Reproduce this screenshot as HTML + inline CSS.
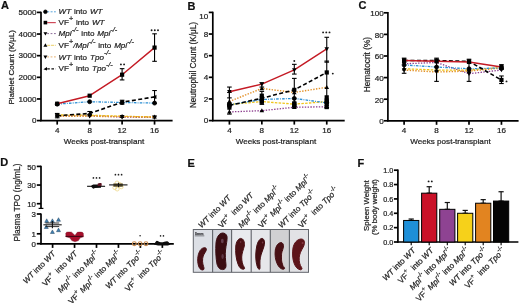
<!DOCTYPE html>
<html><head><meta charset="utf-8"><style>
html,body{margin:0;padding:0;background:#fff;}
body{width:520px;height:307px;overflow:hidden;font-family:"Liberation Sans", sans-serif;}
svg{display:block;will-change:transform;filter:blur(0.35px);}
text{stroke:#1e1e1e;stroke-width:0.22px;paint-order:stroke;}
</style></head><body>
<svg width="520" height="307" viewBox="0 0 520 307" font-family='"Liberation Sans", sans-serif'>
<rect width="520" height="307" fill="#fff"/>
<text x="0.90" y="9.20" font-size="11" text-anchor="start" font-weight="bold" fill="#111">A</text>
<text x="187.40" y="9.60" font-size="11" text-anchor="start" font-weight="bold" fill="#111">B</text>
<text x="358.40" y="9.40" font-size="11" text-anchor="start" font-weight="bold" fill="#111">C</text>
<text x="0.30" y="166.40" font-size="11" text-anchor="start" font-weight="bold" fill="#111">D</text>
<text x="187.50" y="167.00" font-size="11" text-anchor="start" font-weight="bold" fill="#111">E</text>
<text x="357.50" y="166.50" font-size="11" text-anchor="start" font-weight="bold" fill="#111">F</text>
<line x1="41.00" y1="11.70" x2="41.00" y2="121.30" stroke="#000" stroke-width="1.7" stroke-linecap="butt"/>
<line x1="40.30" y1="120.60" x2="172.60" y2="120.60" stroke="#000" stroke-width="1.7" stroke-linecap="butt"/>
<line x1="37.00" y1="120.60" x2="41.00" y2="120.60" stroke="#000" stroke-width="1.7" stroke-linecap="butt"/>
<text x="36.40" y="123.40" font-size="8.1" text-anchor="end" font-weight="normal" fill="#1e1e1e">0</text>
<line x1="37.00" y1="98.96" x2="41.00" y2="98.96" stroke="#000" stroke-width="1.7" stroke-linecap="butt"/>
<text x="36.40" y="101.76" font-size="8.1" text-anchor="end" font-weight="normal" fill="#1e1e1e">1000</text>
<line x1="37.00" y1="77.32" x2="41.00" y2="77.32" stroke="#000" stroke-width="1.7" stroke-linecap="butt"/>
<text x="36.40" y="80.12" font-size="8.1" text-anchor="end" font-weight="normal" fill="#1e1e1e">2000</text>
<line x1="37.00" y1="55.68" x2="41.00" y2="55.68" stroke="#000" stroke-width="1.7" stroke-linecap="butt"/>
<text x="36.40" y="58.48" font-size="8.1" text-anchor="end" font-weight="normal" fill="#1e1e1e">3000</text>
<line x1="37.00" y1="34.04" x2="41.00" y2="34.04" stroke="#000" stroke-width="1.7" stroke-linecap="butt"/>
<text x="36.40" y="36.84" font-size="8.1" text-anchor="end" font-weight="normal" fill="#1e1e1e">4000</text>
<line x1="37.00" y1="12.40" x2="41.00" y2="12.40" stroke="#000" stroke-width="1.7" stroke-linecap="butt"/>
<text x="36.40" y="15.20" font-size="8.1" text-anchor="end" font-weight="normal" fill="#1e1e1e">5000</text>
<line x1="57.20" y1="120.60" x2="57.20" y2="124.60" stroke="#000" stroke-width="1.7" stroke-linecap="butt"/>
<text x="57.20" y="133.30" font-size="8.1" text-anchor="middle" font-weight="normal" fill="#1e1e1e">4</text>
<line x1="89.65" y1="120.60" x2="89.65" y2="124.60" stroke="#000" stroke-width="1.7" stroke-linecap="butt"/>
<text x="89.65" y="133.30" font-size="8.1" text-anchor="middle" font-weight="normal" fill="#1e1e1e">8</text>
<line x1="122.10" y1="120.60" x2="122.10" y2="124.60" stroke="#000" stroke-width="1.7" stroke-linecap="butt"/>
<text x="122.10" y="133.30" font-size="8.1" text-anchor="middle" font-weight="normal" fill="#1e1e1e">12</text>
<line x1="154.55" y1="120.60" x2="154.55" y2="124.60" stroke="#000" stroke-width="1.7" stroke-linecap="butt"/>
<text x="154.55" y="133.30" font-size="8.1" text-anchor="middle" font-weight="normal" fill="#1e1e1e">16</text>
<text x="104.00" y="143.90" font-size="8.1" text-anchor="middle" font-weight="normal" fill="#1e1e1e">Weeks post-transplant</text>
<text x="14.50" y="67.30" font-size="8.0" text-anchor="middle" font-weight="normal" fill="#1e1e1e" transform="rotate(-90 14.50 67.30)">Platelet Count (K/&#956;L)</text>
<polyline points="57.20,115.84 89.65,115.62 122.10,117.14 154.55,117.35" fill="none" stroke="#8c3d8e" stroke-width="1.3" stroke-linecap="butt" stroke-linejoin="round" stroke-dasharray="1.4 1.4"/>
<polygon points="54.89,114.16 59.51,114.16 57.20,118.15" fill="#000"/>
<polygon points="87.34,113.94 91.96,113.94 89.65,117.93" fill="#000"/>
<polygon points="119.79,115.46 124.41,115.46 122.10,119.45" fill="#000"/>
<polygon points="152.24,115.67 156.86,115.67 154.55,119.66" fill="#000"/>
<polyline points="57.20,114.97 89.65,115.19 122.10,116.27 154.55,116.92" fill="none" stroke="#f0c419" stroke-width="1.3" stroke-linecap="butt" stroke-linejoin="round" stroke-dasharray="2.5 1.3"/>
<polygon points="54.89,116.65 59.51,116.65 57.20,112.66" fill="#000"/>
<polygon points="87.34,116.87 91.96,116.87 89.65,112.88" fill="#000"/>
<polygon points="119.79,117.95 124.41,117.95 122.10,113.96" fill="#000"/>
<polygon points="152.24,118.60 156.86,118.60 154.55,114.61" fill="#000"/>
<polyline points="57.20,116.27 89.65,116.27 122.10,116.60 154.55,117.14" fill="none" stroke="#e3922a" stroke-width="1.5" stroke-linecap="butt" stroke-linejoin="round" stroke-dasharray="1.4 1.4"/>
<polygon points="54.89,114.59 59.51,114.59 57.20,118.58" fill="#000"/>
<polygon points="87.34,114.59 91.96,114.59 89.65,118.58" fill="#000"/>
<polygon points="119.79,114.92 124.41,114.92 122.10,118.91" fill="#000"/>
<polygon points="152.24,115.46 156.86,115.46 154.55,119.45" fill="#000"/>
<line x1="57.20" y1="113.46" x2="57.20" y2="117.79" stroke="#000" stroke-width="1.1" stroke-linecap="butt"/>
<line x1="54.90" y1="113.46" x2="59.50" y2="113.46" stroke="#000" stroke-width="1.1" stroke-linecap="butt"/>
<line x1="54.90" y1="117.79" x2="59.50" y2="117.79" stroke="#000" stroke-width="1.1" stroke-linecap="butt"/>
<line x1="89.65" y1="111.51" x2="89.65" y2="114.97" stroke="#000" stroke-width="1.1" stroke-linecap="butt"/>
<line x1="87.35" y1="111.51" x2="91.95" y2="111.51" stroke="#000" stroke-width="1.1" stroke-linecap="butt"/>
<line x1="87.35" y1="114.97" x2="91.95" y2="114.97" stroke="#000" stroke-width="1.1" stroke-linecap="butt"/>
<line x1="122.10" y1="100.26" x2="122.10" y2="104.15" stroke="#000" stroke-width="1.1" stroke-linecap="butt"/>
<line x1="119.80" y1="100.26" x2="124.40" y2="100.26" stroke="#000" stroke-width="1.1" stroke-linecap="butt"/>
<line x1="119.80" y1="104.15" x2="124.40" y2="104.15" stroke="#000" stroke-width="1.1" stroke-linecap="butt"/>
<line x1="154.55" y1="90.52" x2="154.55" y2="103.50" stroke="#000" stroke-width="1.1" stroke-linecap="butt"/>
<line x1="152.25" y1="90.52" x2="156.85" y2="90.52" stroke="#000" stroke-width="1.1" stroke-linecap="butt"/>
<line x1="152.25" y1="103.50" x2="156.85" y2="103.50" stroke="#000" stroke-width="1.1" stroke-linecap="butt"/>
<polyline points="57.20,115.71 89.65,113.46 122.10,102.21 154.55,96.90" fill="none" stroke="#000" stroke-width="1.6" stroke-linecap="butt" stroke-linejoin="round" stroke-dasharray="4 2.4"/>
<polygon points="59.09,113.61 59.09,117.81 54.89,116.34" fill="#000"/>
<polygon points="91.54,111.36 91.54,115.56 87.34,114.09" fill="#000"/>
<polygon points="123.99,100.11 123.99,104.31 119.79,102.84" fill="#000"/>
<polygon points="156.44,94.80 156.44,99.00 152.24,97.53" fill="#000"/>
<polyline points="57.20,104.15 89.65,101.71 122.10,102.49 154.55,103.09" fill="none" stroke="#2b8fd4" stroke-width="1.3" stroke-linecap="butt" stroke-linejoin="round" stroke-dasharray="2.6 1.2 0.9 1.2"/>
<circle cx="57.20" cy="104.15" r="2.00" fill="#000" stroke="#000" stroke-width="0.8"/>
<circle cx="89.65" cy="101.71" r="2.00" fill="#000" stroke="#000" stroke-width="0.8"/>
<circle cx="122.10" cy="102.49" r="2.00" fill="#000" stroke="#000" stroke-width="0.8"/>
<circle cx="154.55" cy="103.09" r="2.00" fill="#000" stroke="#000" stroke-width="0.8"/>
<line x1="122.10" y1="68.66" x2="122.10" y2="79.92" stroke="#000" stroke-width="1.1" stroke-linecap="butt"/>
<line x1="119.80" y1="68.66" x2="124.40" y2="68.66" stroke="#000" stroke-width="1.1" stroke-linecap="butt"/>
<line x1="119.80" y1="79.92" x2="124.40" y2="79.92" stroke="#000" stroke-width="1.1" stroke-linecap="butt"/>
<line x1="154.55" y1="33.82" x2="154.55" y2="61.31" stroke="#000" stroke-width="1.1" stroke-linecap="butt"/>
<line x1="152.25" y1="33.82" x2="156.85" y2="33.82" stroke="#000" stroke-width="1.1" stroke-linecap="butt"/>
<line x1="152.25" y1="61.31" x2="156.85" y2="61.31" stroke="#000" stroke-width="1.1" stroke-linecap="butt"/>
<polyline points="57.20,103.72 89.65,95.71 122.10,74.70 154.55,47.59" fill="none" stroke="#c41a24" stroke-width="1.4" stroke-linecap="butt" stroke-linejoin="round"/>
<rect x="55.10" y="101.62" width="4.20" height="4.20" fill="#000"/>
<rect x="87.55" y="93.61" width="4.20" height="4.20" fill="#000"/>
<rect x="120.00" y="72.60" width="4.20" height="4.20" fill="#000"/>
<rect x="152.45" y="45.49" width="4.20" height="4.20" fill="#000"/>
<circle cx="120.90" cy="64.40" r="0.95" fill="#1a1a1a"/>
<circle cx="124.10" cy="64.40" r="0.95" fill="#1a1a1a"/>
<circle cx="151.60" cy="30.30" r="0.95" fill="#1a1a1a"/>
<circle cx="154.80" cy="30.30" r="0.95" fill="#1a1a1a"/>
<circle cx="158.00" cy="30.30" r="0.95" fill="#1a1a1a"/>
<line x1="47.20" y1="11.80" x2="55.80" y2="11.80" stroke="#5aa6dc" stroke-width="1.0" stroke-linecap="butt" stroke-dasharray="2 1.4"/>
<circle cx="45.40" cy="11.80" r="1.80" fill="#000" stroke="#000" stroke-width="0.8"/>
<text x="58.6" y="14.4" font-size="8.1" word-spacing="0.6" fill="#1e1e1e"><tspan font-style="italic">WT</tspan><tspan> into </tspan><tspan font-style="italic">WT</tspan></text>
<line x1="47.20" y1="22.60" x2="55.80" y2="22.60" stroke="#cf4a5a" stroke-width="1.2" stroke-linecap="butt"/>
<rect x="43.60" y="20.80" width="3.60" height="3.60" fill="#000"/>
<text x="58.6" y="25.2" font-size="8.1" word-spacing="0.6" fill="#1e1e1e"><tspan>VF</tspan><tspan font-size="7.29" dy="-4.05">+</tspan><tspan dy="4.05"> into </tspan><tspan font-style="italic">WT</tspan></text>
<line x1="47.20" y1="33.60" x2="55.80" y2="33.60" stroke="#8a6a98" stroke-width="1.0" stroke-linecap="butt" stroke-dasharray="1.8 1.6"/>
<polygon points="43.42,32.16 47.38,32.16 45.40,35.58" fill="#000"/>
<text x="58.6" y="36.2" font-size="8.1" word-spacing="0.6" fill="#1e1e1e"><tspan font-style="italic">Mpl</tspan><tspan font-style="italic" font-size="7.29" dy="-4.05">-/-</tspan><tspan dy="4.05"> into </tspan><tspan font-style="italic">Mpl</tspan><tspan font-style="italic" font-size="7.29" dy="-4.05">-/-</tspan></text>
<line x1="47.20" y1="45.30" x2="55.80" y2="45.30" stroke="#ecd068" stroke-width="1.0" stroke-linecap="butt" stroke-dasharray="3 0.8"/>
<polygon points="43.42,46.74 47.38,46.74 45.40,43.32" fill="#000"/>
<text x="58.6" y="47.9" font-size="8.1" word-spacing="0.6" fill="#1e1e1e"><tspan>VF</tspan><tspan font-size="7.29" dy="-4.05">+</tspan><tspan font-style="italic" dy="4.05">/Mpl</tspan><tspan font-style="italic" font-size="7.29" dy="-4.05">-/-</tspan><tspan dy="4.05"> into </tspan><tspan font-style="italic">Mpl</tspan><tspan font-style="italic" font-size="7.29" dy="-4.05">-/-</tspan></text>
<line x1="47.20" y1="56.90" x2="55.80" y2="56.90" stroke="#e6b070" stroke-width="1.0" stroke-linecap="butt" stroke-dasharray="1.8 1.6"/>
<polygon points="43.42,55.46 47.38,55.46 45.40,58.88" fill="#000"/>
<text x="58.6" y="59.5" font-size="8.1" word-spacing="0.6" fill="#1e1e1e"><tspan font-style="italic">WT</tspan><tspan> into </tspan><tspan font-style="italic">Tpo</tspan><tspan font-style="italic" font-size="7.29" dy="-4.05">-/-</tspan></text>
<line x1="47.20" y1="68.80" x2="55.80" y2="68.80" stroke="#111" stroke-width="1.3" stroke-linecap="butt" stroke-dasharray="2.6 1.6"/>
<polygon points="47.02,67.00 47.02,70.60 43.42,69.34" fill="#000"/>
<text x="58.6" y="71.4" font-size="8.1" word-spacing="0.6" fill="#1e1e1e"><tspan>VF</tspan><tspan font-size="7.29" dy="-4.05">+</tspan><tspan dy="4.05"> into </tspan><tspan font-style="italic">Tpo</tspan><tspan font-style="italic" font-size="7.29" dy="-4.05">-/-</tspan></text>
<line x1="212.80" y1="11.70" x2="212.80" y2="121.30" stroke="#000" stroke-width="1.7" stroke-linecap="butt"/>
<line x1="212.10" y1="120.60" x2="344.70" y2="120.60" stroke="#000" stroke-width="1.7" stroke-linecap="butt"/>
<line x1="208.80" y1="120.60" x2="212.80" y2="120.60" stroke="#000" stroke-width="1.7" stroke-linecap="butt"/>
<text x="208.20" y="123.40" font-size="8.1" text-anchor="end" font-weight="normal" fill="#1e1e1e">0</text>
<line x1="208.80" y1="98.96" x2="212.80" y2="98.96" stroke="#000" stroke-width="1.7" stroke-linecap="butt"/>
<text x="208.20" y="101.76" font-size="8.1" text-anchor="end" font-weight="normal" fill="#1e1e1e">2</text>
<line x1="208.80" y1="77.32" x2="212.80" y2="77.32" stroke="#000" stroke-width="1.7" stroke-linecap="butt"/>
<text x="208.20" y="80.12" font-size="8.1" text-anchor="end" font-weight="normal" fill="#1e1e1e">4</text>
<line x1="208.80" y1="55.68" x2="212.80" y2="55.68" stroke="#000" stroke-width="1.7" stroke-linecap="butt"/>
<text x="208.20" y="58.48" font-size="8.1" text-anchor="end" font-weight="normal" fill="#1e1e1e">6</text>
<line x1="208.80" y1="34.04" x2="212.80" y2="34.04" stroke="#000" stroke-width="1.7" stroke-linecap="butt"/>
<text x="208.20" y="36.84" font-size="8.1" text-anchor="end" font-weight="normal" fill="#1e1e1e">8</text>
<line x1="208.80" y1="12.40" x2="212.80" y2="12.40" stroke="#000" stroke-width="1.7" stroke-linecap="butt"/>
<text x="208.20" y="18.80" font-size="8.1" text-anchor="end" font-weight="normal" fill="#1e1e1e">10</text>
<line x1="229.40" y1="120.60" x2="229.40" y2="124.60" stroke="#000" stroke-width="1.7" stroke-linecap="butt"/>
<text x="229.40" y="133.30" font-size="8.1" text-anchor="middle" font-weight="normal" fill="#1e1e1e">4</text>
<line x1="261.85" y1="120.60" x2="261.85" y2="124.60" stroke="#000" stroke-width="1.7" stroke-linecap="butt"/>
<text x="261.85" y="133.30" font-size="8.1" text-anchor="middle" font-weight="normal" fill="#1e1e1e">8</text>
<line x1="294.30" y1="120.60" x2="294.30" y2="124.60" stroke="#000" stroke-width="1.7" stroke-linecap="butt"/>
<text x="294.30" y="133.30" font-size="8.1" text-anchor="middle" font-weight="normal" fill="#1e1e1e">12</text>
<line x1="326.75" y1="120.60" x2="326.75" y2="124.60" stroke="#000" stroke-width="1.7" stroke-linecap="butt"/>
<text x="326.75" y="133.30" font-size="8.1" text-anchor="middle" font-weight="normal" fill="#1e1e1e">16</text>
<text x="275.95" y="143.90" font-size="8.1" text-anchor="middle" font-weight="normal" fill="#1e1e1e">Weeks post-transplant</text>
<text x="196.40" y="65.00" font-size="8.2" text-anchor="middle" font-weight="normal" fill="#1e1e1e" transform="rotate(-90 196.40 65.00)">Neutrophil Count (K/&#956;L)</text>
<polyline points="229.40,111.94 261.85,110.65 294.30,107.29 326.75,106.75" fill="none" stroke="#8c3d8e" stroke-width="1.3" stroke-linecap="butt" stroke-linejoin="round" stroke-dasharray="1.4 1.4"/>
<polygon points="227.09,113.62 231.71,113.62 229.40,109.63" fill="#000"/>
<polygon points="259.54,112.33 264.16,112.33 261.85,108.34" fill="#000"/>
<polygon points="291.99,108.97 296.61,108.97 294.30,104.98" fill="#000"/>
<polygon points="324.44,108.43 329.06,108.43 326.75,104.44" fill="#000"/>
<polyline points="229.40,104.37 261.85,101.56 294.30,104.15 326.75,101.56" fill="none" stroke="#f0c419" stroke-width="1.3" stroke-linecap="butt" stroke-linejoin="round" stroke-dasharray="2.5 1.3"/>
<rect x="227.30" y="102.27" width="4.20" height="4.20" fill="#000"/>
<rect x="259.75" y="99.46" width="4.20" height="4.20" fill="#000"/>
<rect x="292.20" y="102.05" width="4.20" height="4.20" fill="#000"/>
<rect x="324.65" y="99.46" width="4.20" height="4.20" fill="#000"/>
<polyline points="229.40,101.45 261.85,88.46 294.30,92.47 326.75,87.27" fill="none" stroke="#e3922a" stroke-width="1.4" stroke-linecap="butt" stroke-linejoin="round" stroke-dasharray="1.4 1.4"/>
<polygon points="227.09,103.13 231.71,103.13 229.40,99.14" fill="#000"/>
<polygon points="259.54,90.14 264.16,90.14 261.85,86.15" fill="#000"/>
<polygon points="291.99,94.15 296.61,94.15 294.30,90.16" fill="#000"/>
<polygon points="324.44,88.95 329.06,88.95 326.75,84.96" fill="#000"/>
<polyline points="229.40,104.80 261.85,99.50 294.30,98.42 326.75,102.86" fill="none" stroke="#2b8fd4" stroke-width="1.3" stroke-linecap="butt" stroke-linejoin="round" stroke-dasharray="2.6 1.2 0.9 1.2"/>
<circle cx="229.40" cy="104.80" r="2.00" fill="#000" stroke="#000" stroke-width="0.8"/>
<circle cx="261.85" cy="99.50" r="2.00" fill="#000" stroke="#000" stroke-width="0.8"/>
<circle cx="294.30" cy="98.42" r="2.00" fill="#000" stroke="#000" stroke-width="0.8"/>
<circle cx="326.75" cy="102.86" r="2.00" fill="#000" stroke="#000" stroke-width="0.8"/>
<line x1="229.40" y1="92.47" x2="229.40" y2="114.11" stroke="#000" stroke-width="1.1" stroke-linecap="butt"/>
<line x1="227.10" y1="92.47" x2="231.70" y2="92.47" stroke="#000" stroke-width="1.1" stroke-linecap="butt"/>
<line x1="227.10" y1="114.11" x2="231.70" y2="114.11" stroke="#000" stroke-width="1.1" stroke-linecap="butt"/>
<line x1="261.85" y1="91.39" x2="261.85" y2="104.37" stroke="#000" stroke-width="1.1" stroke-linecap="butt"/>
<line x1="259.55" y1="91.39" x2="264.15" y2="91.39" stroke="#000" stroke-width="1.1" stroke-linecap="butt"/>
<line x1="259.55" y1="104.37" x2="264.15" y2="104.37" stroke="#000" stroke-width="1.1" stroke-linecap="butt"/>
<line x1="294.30" y1="78.40" x2="294.30" y2="106.53" stroke="#000" stroke-width="1.1" stroke-linecap="butt"/>
<line x1="292.00" y1="78.40" x2="296.60" y2="78.40" stroke="#000" stroke-width="1.1" stroke-linecap="butt"/>
<line x1="292.00" y1="106.53" x2="296.60" y2="106.53" stroke="#000" stroke-width="1.1" stroke-linecap="butt"/>
<line x1="326.75" y1="61.09" x2="326.75" y2="107.62" stroke="#000" stroke-width="1.1" stroke-linecap="butt"/>
<line x1="324.45" y1="61.09" x2="329.05" y2="61.09" stroke="#000" stroke-width="1.1" stroke-linecap="butt"/>
<line x1="324.45" y1="107.62" x2="329.05" y2="107.62" stroke="#000" stroke-width="1.1" stroke-linecap="butt"/>
<polyline points="229.40,105.45 261.85,98.20 294.30,89.87 326.75,72.45" fill="none" stroke="#000" stroke-width="1.6" stroke-linecap="butt" stroke-linejoin="round" stroke-dasharray="4 2.4"/>
<rect x="227.30" y="103.35" width="4.20" height="4.20" fill="#000"/>
<rect x="259.75" y="96.10" width="4.20" height="4.20" fill="#000"/>
<rect x="292.20" y="87.77" width="4.20" height="4.20" fill="#000"/>
<rect x="324.65" y="70.35" width="4.20" height="4.20" fill="#000"/>
<line x1="229.40" y1="87.06" x2="229.40" y2="97.88" stroke="#000" stroke-width="1.1" stroke-linecap="butt"/>
<line x1="227.10" y1="87.06" x2="231.70" y2="87.06" stroke="#000" stroke-width="1.1" stroke-linecap="butt"/>
<line x1="227.10" y1="97.88" x2="231.70" y2="97.88" stroke="#000" stroke-width="1.1" stroke-linecap="butt"/>
<line x1="261.85" y1="82.73" x2="261.85" y2="87.06" stroke="#000" stroke-width="1.1" stroke-linecap="butt"/>
<line x1="259.55" y1="82.73" x2="264.15" y2="82.73" stroke="#000" stroke-width="1.1" stroke-linecap="butt"/>
<line x1="259.55" y1="87.06" x2="264.15" y2="87.06" stroke="#000" stroke-width="1.1" stroke-linecap="butt"/>
<line x1="294.30" y1="64.34" x2="294.30" y2="74.07" stroke="#000" stroke-width="1.1" stroke-linecap="butt"/>
<line x1="292.00" y1="64.34" x2="296.60" y2="64.34" stroke="#000" stroke-width="1.1" stroke-linecap="butt"/>
<line x1="292.00" y1="74.07" x2="296.60" y2="74.07" stroke="#000" stroke-width="1.1" stroke-linecap="butt"/>
<line x1="326.75" y1="37.29" x2="326.75" y2="62.17" stroke="#000" stroke-width="1.1" stroke-linecap="butt"/>
<line x1="324.45" y1="37.29" x2="329.05" y2="37.29" stroke="#000" stroke-width="1.1" stroke-linecap="butt"/>
<line x1="324.45" y1="62.17" x2="329.05" y2="62.17" stroke="#000" stroke-width="1.1" stroke-linecap="butt"/>
<polyline points="229.40,91.71 261.85,84.14 294.30,69.85 326.75,48.86" fill="none" stroke="#c41a24" stroke-width="1.4" stroke-linecap="butt" stroke-linejoin="round"/>
<polygon points="227.09,90.03 231.71,90.03 229.40,94.02" fill="#000"/>
<polygon points="259.54,82.46 264.16,82.46 261.85,86.45" fill="#000"/>
<polygon points="291.99,68.17 296.61,68.17 294.30,72.16" fill="#000"/>
<polygon points="324.44,47.18 329.06,47.18 326.75,51.17" fill="#000"/>
<rect x="292.20" y="104.43" width="4.20" height="4.20" fill="#000"/>
<rect x="292.20" y="101.19" width="4.20" height="4.20" fill="#000"/>
<rect x="324.60" y="104.97" width="4.20" height="4.20" fill="#000"/>
<rect x="324.60" y="101.73" width="4.20" height="4.20" fill="#000"/>
<rect x="324.60" y="98.48" width="4.20" height="4.20" fill="#000"/>
<rect x="324.60" y="95.24" width="4.20" height="4.20" fill="#000"/>
<rect x="259.70" y="99.56" width="4.20" height="4.20" fill="#000"/>
<rect x="259.70" y="93.61" width="4.20" height="4.20" fill="#000"/>
<rect x="227.30" y="105.52" width="4.20" height="4.20" fill="#000"/>
<circle cx="294.30" cy="61.00" r="0.95" fill="#1a1a1a"/>
<circle cx="323.10" cy="32.40" r="0.95" fill="#1a1a1a"/>
<circle cx="326.30" cy="32.40" r="0.95" fill="#1a1a1a"/>
<circle cx="329.50" cy="32.40" r="0.95" fill="#1a1a1a"/>
<circle cx="332.80" cy="73.60" r="0.95" fill="#1a1a1a"/>
<line x1="387.90" y1="12.10" x2="387.90" y2="121.50" stroke="#000" stroke-width="1.7" stroke-linecap="butt"/>
<line x1="387.20" y1="120.80" x2="518.60" y2="120.80" stroke="#000" stroke-width="1.7" stroke-linecap="butt"/>
<line x1="383.90" y1="120.80" x2="387.90" y2="120.80" stroke="#000" stroke-width="1.7" stroke-linecap="butt"/>
<text x="383.70" y="124.10" font-size="8.1" text-anchor="end" font-weight="normal" fill="#1e1e1e">0</text>
<line x1="383.90" y1="99.20" x2="387.90" y2="99.20" stroke="#000" stroke-width="1.7" stroke-linecap="butt"/>
<text x="383.70" y="102.50" font-size="8.1" text-anchor="end" font-weight="normal" fill="#1e1e1e">20</text>
<line x1="383.90" y1="77.60" x2="387.90" y2="77.60" stroke="#000" stroke-width="1.7" stroke-linecap="butt"/>
<text x="383.70" y="80.90" font-size="8.1" text-anchor="end" font-weight="normal" fill="#1e1e1e">40</text>
<line x1="383.90" y1="56.00" x2="387.90" y2="56.00" stroke="#000" stroke-width="1.7" stroke-linecap="butt"/>
<text x="383.70" y="59.30" font-size="8.1" text-anchor="end" font-weight="normal" fill="#1e1e1e">60</text>
<line x1="383.90" y1="34.40" x2="387.90" y2="34.40" stroke="#000" stroke-width="1.7" stroke-linecap="butt"/>
<text x="383.70" y="37.70" font-size="8.1" text-anchor="end" font-weight="normal" fill="#1e1e1e">80</text>
<line x1="383.90" y1="12.80" x2="387.90" y2="12.80" stroke="#000" stroke-width="1.7" stroke-linecap="butt"/>
<text x="383.70" y="16.10" font-size="8.1" text-anchor="end" font-weight="normal" fill="#1e1e1e">100</text>
<line x1="404.10" y1="120.80" x2="404.10" y2="124.80" stroke="#000" stroke-width="1.7" stroke-linecap="butt"/>
<text x="404.10" y="133.30" font-size="8.1" text-anchor="middle" font-weight="normal" fill="#1e1e1e">4</text>
<line x1="436.55" y1="120.80" x2="436.55" y2="124.80" stroke="#000" stroke-width="1.7" stroke-linecap="butt"/>
<text x="436.55" y="133.30" font-size="8.1" text-anchor="middle" font-weight="normal" fill="#1e1e1e">8</text>
<line x1="469.00" y1="120.80" x2="469.00" y2="124.80" stroke="#000" stroke-width="1.7" stroke-linecap="butt"/>
<text x="469.00" y="133.30" font-size="8.1" text-anchor="middle" font-weight="normal" fill="#1e1e1e">12</text>
<line x1="501.45" y1="120.80" x2="501.45" y2="124.80" stroke="#000" stroke-width="1.7" stroke-linecap="butt"/>
<text x="501.45" y="133.30" font-size="8.1" text-anchor="middle" font-weight="normal" fill="#1e1e1e">16</text>
<text x="450.45" y="143.90" font-size="8.1" text-anchor="middle" font-weight="normal" fill="#1e1e1e">Weeks post-transplant</text>
<text x="370.00" y="64.60" font-size="8.3" text-anchor="middle" font-weight="normal" fill="#1e1e1e" transform="rotate(-90 370.00 64.60)">Hematocrit (%)</text>
<polyline points="404.10,63.78 436.55,62.48 469.00,73.71 501.45,70.04" fill="none" stroke="#8c3d8e" stroke-width="1.3" stroke-linecap="butt" stroke-linejoin="round" stroke-dasharray="1.4 1.4"/>
<polygon points="401.79,62.10 406.41,62.10 404.10,66.09" fill="#000"/>
<polygon points="434.24,60.80 438.86,60.80 436.55,64.79" fill="#000"/>
<polygon points="466.69,72.03 471.31,72.03 469.00,76.02" fill="#000"/>
<polygon points="499.14,68.36 503.76,68.36 501.45,72.35" fill="#000"/>
<polyline points="404.10,68.74 436.55,70.04 469.00,70.04 501.45,67.45" fill="none" stroke="#f0c419" stroke-width="1.3" stroke-linecap="butt" stroke-linejoin="round" stroke-dasharray="2.5 1.3"/>
<polygon points="401.79,70.42 406.41,70.42 404.10,66.43" fill="#000"/>
<polygon points="434.24,71.72 438.86,71.72 436.55,67.73" fill="#000"/>
<polygon points="466.69,71.72 471.31,71.72 469.00,67.73" fill="#000"/>
<polygon points="499.14,69.13 503.76,69.13 501.45,65.14" fill="#000"/>
<polyline points="404.10,70.04 436.55,71.98 469.00,71.12 501.45,67.99" fill="none" stroke="#e3922a" stroke-width="1.4" stroke-linecap="butt" stroke-linejoin="round" stroke-dasharray="1.4 1.4"/>
<polygon points="401.79,68.36 406.41,68.36 404.10,72.35" fill="#000"/>
<polygon points="434.24,70.30 438.86,70.30 436.55,74.29" fill="#000"/>
<polygon points="466.69,69.44 471.31,69.44 469.00,73.43" fill="#000"/>
<polygon points="499.14,66.31 503.76,66.31 501.45,70.30" fill="#000"/>
<polyline points="404.10,64.96 436.55,67.02 469.00,68.74 501.45,67.99" fill="none" stroke="#2b8fd4" stroke-width="1.3" stroke-linecap="butt" stroke-linejoin="round" stroke-dasharray="2.6 1.2 0.9 1.2"/>
<circle cx="404.10" cy="64.96" r="2.00" fill="#000" stroke="#000" stroke-width="0.8"/>
<circle cx="436.55" cy="67.02" r="2.00" fill="#000" stroke="#000" stroke-width="0.8"/>
<circle cx="469.00" cy="68.74" r="2.00" fill="#000" stroke="#000" stroke-width="0.8"/>
<circle cx="501.45" cy="67.99" r="2.00" fill="#000" stroke="#000" stroke-width="0.8"/>
<line x1="404.10" y1="58.16" x2="404.10" y2="73.28" stroke="#000" stroke-width="1.1" stroke-linecap="butt"/>
<line x1="401.80" y1="58.16" x2="406.40" y2="58.16" stroke="#000" stroke-width="1.1" stroke-linecap="butt"/>
<line x1="401.80" y1="73.28" x2="406.40" y2="73.28" stroke="#000" stroke-width="1.1" stroke-linecap="butt"/>
<line x1="436.55" y1="58.16" x2="436.55" y2="81.38" stroke="#000" stroke-width="1.1" stroke-linecap="butt"/>
<line x1="434.25" y1="58.16" x2="438.85" y2="58.16" stroke="#000" stroke-width="1.1" stroke-linecap="butt"/>
<line x1="434.25" y1="81.38" x2="438.85" y2="81.38" stroke="#000" stroke-width="1.1" stroke-linecap="butt"/>
<line x1="469.00" y1="59.24" x2="469.00" y2="81.38" stroke="#000" stroke-width="1.1" stroke-linecap="butt"/>
<line x1="466.70" y1="59.24" x2="471.30" y2="59.24" stroke="#000" stroke-width="1.1" stroke-linecap="butt"/>
<line x1="466.70" y1="81.38" x2="471.30" y2="81.38" stroke="#000" stroke-width="1.1" stroke-linecap="butt"/>
<line x1="501.45" y1="75.98" x2="501.45" y2="83.54" stroke="#000" stroke-width="1.1" stroke-linecap="butt"/>
<line x1="499.15" y1="75.98" x2="503.75" y2="75.98" stroke="#000" stroke-width="1.1" stroke-linecap="butt"/>
<line x1="499.15" y1="83.54" x2="503.75" y2="83.54" stroke="#000" stroke-width="1.1" stroke-linecap="butt"/>
<polyline points="404.10,60.54 436.55,60.54 469.00,61.40 501.45,79.98" fill="none" stroke="#000" stroke-width="1.6" stroke-linecap="butt" stroke-linejoin="round" stroke-dasharray="4 2.4"/>
<rect x="402.00" y="58.44" width="4.20" height="4.20" fill="#000"/>
<rect x="434.45" y="58.44" width="4.20" height="4.20" fill="#000"/>
<rect x="466.90" y="59.30" width="4.20" height="4.20" fill="#000"/>
<rect x="499.35" y="77.88" width="4.20" height="4.20" fill="#000"/>
<line x1="501.45" y1="64.64" x2="501.45" y2="69.50" stroke="#000" stroke-width="1.1" stroke-linecap="butt"/>
<line x1="499.15" y1="64.64" x2="503.75" y2="64.64" stroke="#000" stroke-width="1.1" stroke-linecap="butt"/>
<line x1="499.15" y1="69.50" x2="503.75" y2="69.50" stroke="#000" stroke-width="1.1" stroke-linecap="butt"/>
<polyline points="404.10,60.54 436.55,61.18 469.00,61.94 501.45,67.02" fill="none" stroke="#c41a24" stroke-width="1.4" stroke-linecap="butt" stroke-linejoin="round"/>
<rect x="402.00" y="58.44" width="4.20" height="4.20" fill="#000"/>
<rect x="434.45" y="59.08" width="4.20" height="4.20" fill="#000"/>
<rect x="466.90" y="59.84" width="4.20" height="4.20" fill="#000"/>
<rect x="499.35" y="64.92" width="4.20" height="4.20" fill="#000"/>
<circle cx="506.50" cy="81.40" r="0.95" fill="#1a1a1a"/>
<line x1="41.00" y1="165.70" x2="41.00" y2="208.40" stroke="#000" stroke-width="1.7" stroke-linecap="butt"/>
<line x1="38.60" y1="208.40" x2="43.40" y2="208.40" stroke="#000" stroke-width="1.2" stroke-linecap="butt"/>
<line x1="41.00" y1="213.40" x2="41.00" y2="244.40" stroke="#000" stroke-width="1.7" stroke-linecap="butt"/>
<line x1="40.30" y1="243.80" x2="173.80" y2="243.80" stroke="#000" stroke-width="1.7" stroke-linecap="butt"/>
<line x1="36.80" y1="166.40" x2="41.00" y2="166.40" stroke="#000" stroke-width="1.7" stroke-linecap="butt"/>
<text x="36.00" y="169.50" font-size="7.9" text-anchor="end" font-weight="normal" fill="#1e1e1e">50</text>
<line x1="36.80" y1="185.05" x2="41.00" y2="185.05" stroke="#000" stroke-width="1.7" stroke-linecap="butt"/>
<text x="36.00" y="188.15" font-size="7.9" text-anchor="end" font-weight="normal" fill="#1e1e1e">30</text>
<line x1="36.80" y1="203.70" x2="41.00" y2="203.70" stroke="#000" stroke-width="1.7" stroke-linecap="butt"/>
<text x="36.00" y="206.80" font-size="7.9" text-anchor="end" font-weight="normal" fill="#1e1e1e">10</text>
<line x1="36.80" y1="214.00" x2="41.00" y2="214.00" stroke="#000" stroke-width="1.7" stroke-linecap="butt"/>
<text x="36.00" y="217.00" font-size="7.9" text-anchor="end" font-weight="normal" fill="#1e1e1e">3</text>
<line x1="36.80" y1="233.80" x2="41.00" y2="233.80" stroke="#000" stroke-width="1.7" stroke-linecap="butt"/>
<text x="36.00" y="236.80" font-size="7.9" text-anchor="end" font-weight="normal" fill="#1e1e1e">1</text>
<line x1="36.80" y1="243.70" x2="41.00" y2="243.70" stroke="#000" stroke-width="1.7" stroke-linecap="butt"/>
<text x="36.00" y="246.70" font-size="7.9" text-anchor="end" font-weight="normal" fill="#1e1e1e">0</text>
<text x="20.30" y="202.50" font-size="8.3" text-anchor="middle" font-weight="normal" fill="#1e1e1e" transform="rotate(-90 20.30 202.50)">Plasma TPO (ng/mL)</text>
<line x1="52.60" y1="243.80" x2="52.60" y2="247.90" stroke="#000" stroke-width="1.7" stroke-linecap="butt"/>
<text x="56.00" y="254.30" font-size="8.0" text-anchor="end" fill="#1e1e1e" transform="rotate(-45 56.00 254.30)"><tspan font-style="italic">WT</tspan><tspan> into </tspan><tspan font-style="italic">WT</tspan></text>
<line x1="74.55" y1="243.80" x2="74.55" y2="247.90" stroke="#000" stroke-width="1.7" stroke-linecap="butt"/>
<text x="77.95" y="254.30" font-size="8.0" text-anchor="end" fill="#1e1e1e" transform="rotate(-45 77.95 254.30)"><tspan>VF</tspan><tspan font-size="6.24" dy="-4.00">+</tspan><tspan dy="4.00">&#160; into </tspan><tspan font-style="italic">WT</tspan></text>
<line x1="96.50" y1="243.80" x2="96.50" y2="247.90" stroke="#000" stroke-width="1.7" stroke-linecap="butt"/>
<text x="99.90" y="254.30" font-size="8.0" text-anchor="end" fill="#1e1e1e" transform="rotate(-45 99.90 254.30)"><tspan font-style="italic">Mpl</tspan><tspan font-size="6.24" dy="-4.00">-/-</tspan><tspan dy="4.00"> into </tspan><tspan font-style="italic">Mpl</tspan><tspan font-size="6.24" dy="-4.00">-/-</tspan></text>
<line x1="118.45" y1="243.80" x2="118.45" y2="247.90" stroke="#000" stroke-width="1.7" stroke-linecap="butt"/>
<text x="121.85" y="254.30" font-size="8.0" text-anchor="end" fill="#1e1e1e" transform="rotate(-45 121.85 254.30)"><tspan>VF</tspan><tspan font-size="6.24" dy="-4.00">+</tspan><tspan dy="4.00">&#160;</tspan><tspan font-style="italic">Mpl</tspan><tspan font-size="6.24" dy="-4.00">-/-</tspan><tspan dy="4.00"> into </tspan><tspan font-style="italic">Mpl</tspan><tspan font-size="6.24" dy="-4.00">-/-</tspan></text>
<line x1="140.40" y1="243.80" x2="140.40" y2="247.90" stroke="#000" stroke-width="1.7" stroke-linecap="butt"/>
<text x="143.80" y="254.30" font-size="8.0" text-anchor="end" fill="#1e1e1e" transform="rotate(-45 143.80 254.30)"><tspan font-style="italic">WT</tspan><tspan> into </tspan><tspan font-style="italic">Tpo</tspan><tspan font-size="6.24" dy="-4.00">-/-</tspan></text>
<line x1="162.35" y1="243.80" x2="162.35" y2="247.90" stroke="#000" stroke-width="1.7" stroke-linecap="butt"/>
<text x="165.75" y="254.30" font-size="8.0" text-anchor="end" fill="#1e1e1e" transform="rotate(-45 165.75 254.30)"><tspan>VF</tspan><tspan font-size="6.24" dy="-4.00">+</tspan><tspan dy="4.00">&#160; into </tspan><tspan font-style="italic">Tpo</tspan><tspan font-size="6.24" dy="-4.00">-/-</tspan></text>
<polygon points="44.70,222.40 48.70,222.40 46.70,218.80" fill="#3f80b2" stroke="#1d3d58" stroke-width="0.45"/>
<polygon points="50.40,222.40 54.40,222.40 52.40,218.80" fill="#3f80b2" stroke="#1d3d58" stroke-width="0.45"/>
<polygon points="56.50,221.30 60.50,221.30 58.50,217.70" fill="#3f80b2" stroke="#1d3d58" stroke-width="0.45"/>
<polygon points="44.30,228.50 48.30,228.50 46.30,224.90" fill="#3f80b2" stroke="#1d3d58" stroke-width="0.45"/>
<polygon points="50.40,233.50 54.40,233.50 52.40,229.90" fill="#3f80b2" stroke="#1d3d58" stroke-width="0.45"/>
<polygon points="56.50,231.70 60.50,231.70 58.50,228.10" fill="#3f80b2" stroke="#1d3d58" stroke-width="0.45"/>
<line x1="43.40" y1="224.80" x2="61.70" y2="224.80" stroke="#1a1a1a" stroke-width="1.1" stroke-linecap="butt"/>
<line x1="45.50" y1="223.00" x2="59.20" y2="223.00" stroke="#1a1a1a" stroke-width="0.9" stroke-linecap="butt"/>
<line x1="45.50" y1="226.60" x2="59.20" y2="226.60" stroke="#1a1a1a" stroke-width="0.9" stroke-linecap="butt"/>
<line x1="52.40" y1="221.00" x2="52.40" y2="228.20" stroke="#111" stroke-width="1.1" stroke-linecap="butt"/>
<path d="M65.8,233 C66.2,232 68.5,231.8 71.6,232.2 L75,235.4 L77.2,232.3 C80,231.8 82.6,232 83.2,233 L83.6,236.8 L80.2,237.8 L78.4,240.6 L75,241.8 L71.8,240.6 L69.8,237.8 L65.9,236.8 Z" fill="#a80f2c" stroke="#6a0818" stroke-width="0.4"/>
<line x1="65.60" y1="236.40" x2="82.80" y2="236.40" stroke="#3a0510" stroke-width="1.0" stroke-linecap="butt"/>
<line x1="87.10" y1="186.30" x2="105.10" y2="186.30" stroke="#111" stroke-width="1.1" stroke-linecap="butt"/>
<path d="M91,186.6 C91.5,185 93,184.5 95,184.6 L98,184.4 L101,184.6 L101,187.8 L95,188 L93.2,188.8 L92.2,187.8 Z" fill="#0d0d0d"/>
<path d="M97.6,186 L97.8,183.6 C98.8,182.9 100.6,182.8 101.7,183.4 L101.6,186 Z" fill="#5a1422"/>
<circle cx="93.40" cy="177.90" r="0.85" fill="#222"/>
<circle cx="96.50" cy="177.90" r="0.85" fill="#222"/>
<circle cx="99.60" cy="177.90" r="0.85" fill="#222"/>
<circle cx="114.80" cy="187.60" r="2.0" fill="none" stroke="#efd98a" stroke-width="0.8"/>
<circle cx="117.00" cy="183.00" r="2.0" fill="none" stroke="#efd98a" stroke-width="0.8"/>
<circle cx="119.80" cy="184.60" r="2.0" fill="none" stroke="#efd98a" stroke-width="0.8"/>
<circle cx="121.20" cy="186.80" r="2.0" fill="none" stroke="#efd98a" stroke-width="0.8"/>
<circle cx="117.20" cy="189.00" r="2.0" fill="none" stroke="#efd98a" stroke-width="0.8"/>
<rect x="113.4" y="183.4" width="9.4" height="3.4" fill="#6a5e36"/>
<line x1="109.10" y1="184.90" x2="127.50" y2="184.90" stroke="#111" stroke-width="1.1" stroke-linecap="butt"/>
<line x1="118.50" y1="182.80" x2="118.50" y2="187.20" stroke="#111" stroke-width="1.0" stroke-linecap="butt"/>
<circle cx="115.40" cy="174.70" r="0.85" fill="#222"/>
<circle cx="118.50" cy="174.70" r="0.85" fill="#222"/>
<circle cx="121.60" cy="174.70" r="0.85" fill="#222"/>
<circle cx="134.30" cy="243.7" r="1.9" fill="none" stroke="#c98a4e" stroke-width="1.1"/>
<circle cx="140.10" cy="243.7" r="1.9" fill="none" stroke="#c98a4e" stroke-width="1.1"/>
<circle cx="146.00" cy="243.7" r="1.9" fill="none" stroke="#c98a4e" stroke-width="1.1"/>
<circle cx="140.10" cy="235.80" r="0.8" fill="#222"/>
<path d="M153.8,244.6 C155,243 155.8,241 156.8,240.8 C158,240.8 159,242 161,242.3 C163.5,242.4 165.5,241 167.3,241.2 C168.5,241.5 169.5,243 170.4,244.6 L168,245.4 L158,245.6 Z" fill="#0d0d0d"/>
<circle cx="160.55" cy="235.90" r="0.8" fill="#222"/>
<circle cx="163.45" cy="235.90" r="0.8" fill="#222"/>
<rect x="193.30" y="229.5" width="19.30" height="42.80" fill="#dcdfe5"/>
<rect x="212.60" y="229.5" width="19.00" height="42.80" fill="#d3d6dd"/>
<rect x="231.60" y="229.5" width="19.60" height="42.80" fill="#e9eaee"/>
<rect x="251.20" y="229.5" width="19.10" height="42.80" fill="#e6e7ea"/>
<rect x="270.30" y="229.5" width="19.10" height="42.80" fill="#d0d0d2"/>
<rect x="289.40" y="229.5" width="19.10" height="42.80" fill="#e2e2e5"/>
<rect x="193.30" y="229.5" width="115.20" height="42.80" fill="none" stroke="#62656b" stroke-width="1.0"/>
<line x1="212.60" y1="229.50" x2="212.60" y2="272.30" stroke="#5f6268" stroke-width="1.1" stroke-linecap="butt"/>
<line x1="231.60" y1="229.50" x2="231.60" y2="272.30" stroke="#5f6268" stroke-width="1.1" stroke-linecap="butt"/>
<line x1="251.20" y1="229.50" x2="251.20" y2="272.30" stroke="#5f6268" stroke-width="1.1" stroke-linecap="butt"/>
<line x1="270.30" y1="229.50" x2="270.30" y2="272.30" stroke="#5f6268" stroke-width="1.1" stroke-linecap="butt"/>
<line x1="289.40" y1="229.50" x2="289.40" y2="272.30" stroke="#5f6268" stroke-width="1.1" stroke-linecap="butt"/>
<path d="M205.7,248 C204,247 201,248.5 199.5,251.5 C197.5,255.5 197.2,261 198.3,265 C199,268 200.5,270 202.8,270 C204.3,269.8 204.2,268 203.6,266.5 C202.3,263.5 202.2,259 203.2,256 C204,253.5 206.6,251 206.4,249.2 C206.3,248.5 206,248.1 205.7,248 Z" fill="#481016" stroke="#481016" stroke-width="1.0" stroke-linejoin="round"/>
<path d="M222.5,233 C218.5,233.5 216.5,238 216,243 C215.5,250 215.8,258 217,264 C218,268 220,269.6 222.5,269.6 C225,269.5 226.2,268 226,265 C225.5,260 225,255 225.5,250 C226,245 227.5,240 227,236.5 C226.5,234 224.5,233 222.5,233 Z" fill="#3a0d12" stroke="#3a0d12" stroke-width="1.0" stroke-linejoin="round"/>
<path d="M240.6,238.4 C238,238.8 236.2,242 235.8,246 C235.3,252 236,259 238,264 C239,267 240.6,269 243,269.2 C244.4,269.2 245,268.5 244.4,267.5 C242.5,265 241.6,261 241.7,257 C241.8,253 243.5,249.5 244.3,246 C245,242.5 243.5,238.2 240.6,238.4 Z" fill="#4a1014" stroke="#4a1014" stroke-width="1.0" stroke-linejoin="round"/>
<path d="M261.8,238.4 C259.5,238.8 257.6,242 256.8,246 C255.7,251 255.4,257 256.2,262 C256.8,266 257.8,268.8 259.2,269.5 C260.2,269.6 260.1,267 259.9,264 C259.8,259.5 260.5,256 262,252 C263.3,248.5 264.8,245 264.5,241.8 C264.3,239.8 263.2,238.3 261.8,238.4 Z" fill="#440e12" stroke="#440e12" stroke-width="1.0" stroke-linejoin="round"/>
<path d="M280.8,242.6 C278,243 276,246 275.3,250 C274.6,255 275.4,260 277.3,264 C278.6,266.8 280.5,268.8 282.6,269.2 C284.2,269.4 285,268.6 284.4,267.6 C282.6,265 281.4,261 281.4,257 C281.4,253 282.8,250 283.4,247 C283.8,244.5 282.6,242.4 280.8,242.6 Z" fill="#481014" stroke="#481014" stroke-width="1.0" stroke-linejoin="round"/>
<path d="M301,239 C297,239.3 294,243 293,248 C292.2,253 292.4,259 294.3,263.8 C295.6,267 297.6,269.4 300.4,269.8 C302,269.9 302.4,268.6 301.6,267.5 C299.8,265 299,261.5 299.2,257.8 C299.4,254 301.2,250.5 303,247.5 C304.6,245 305,241 303.4,239.8 C302.7,239.2 301.8,239 301,239 Z" fill="#5e1419" stroke="#5e1419" stroke-width="1.0" stroke-linejoin="round"/>
<ellipse cx="222.3" cy="241" rx="1.4" ry="2.2" fill="#8a6a80" opacity="0.55"/>
<ellipse cx="222.6" cy="256.5" rx="1.2" ry="2.4" fill="#8a6a80" opacity="0.45"/>
<path d="M283.2,250 C281.6,254 281.4,260 283.6,266.5 L285.2,267.6 C283.6,263 283.2,256 284.6,250.5 Z" fill="#d9cfcf" opacity="0.75"/>
<ellipse cx="302.6" cy="243" rx="1.0" ry="1.0" fill="#b06070" opacity="0.5"/>
<ellipse cx="262.6" cy="242.5" rx="0.8" ry="1.0" fill="#b07080" opacity="0.45"/>
<ellipse cx="240.6" cy="242.0" rx="0.8" ry="0.9" fill="#a06070" opacity="0.4"/>
<text x="195.0" y="234.8" font-size="3.6" fill="#4a4a50" font-weight="bold">5mm</text>
<rect x="194.8" y="235.4" width="9.5" height="0.9" fill="#55575c" opacity="0.8"/>
<text x="201.60" y="228.50" font-size="8.0" text-anchor="start" fill="#1e1e1e" transform="rotate(-45 201.60 228.50)"><tspan font-style="italic">WT</tspan><tspan> into </tspan><tspan font-style="italic">WT</tspan></text>
<text x="221.60" y="228.50" font-size="8.0" text-anchor="start" fill="#1e1e1e" transform="rotate(-45 221.60 228.50)"><tspan>VF</tspan><tspan font-size="6.24" dy="-4.00">+</tspan><tspan dy="4.00">&#160; into </tspan><tspan font-style="italic">WT</tspan></text>
<text x="241.60" y="228.50" font-size="8.0" text-anchor="start" fill="#1e1e1e" transform="rotate(-45 241.60 228.50)"><tspan font-style="italic">Mpl</tspan><tspan font-size="6.24" dy="-4.00">-/-</tspan><tspan dy="4.00"> into </tspan><tspan font-style="italic">Mpl</tspan><tspan font-size="6.24" dy="-4.00">-/-</tspan></text>
<text x="261.60" y="228.50" font-size="8.0" text-anchor="start" fill="#1e1e1e" transform="rotate(-45 261.60 228.50)"><tspan>VF</tspan><tspan font-size="6.24" dy="-4.00">+</tspan><tspan dy="4.00">&#160;</tspan><tspan font-style="italic">Mpl</tspan><tspan font-size="6.24" dy="-4.00">-/-</tspan><tspan dy="4.00"> into </tspan><tspan font-style="italic">Mpl</tspan><tspan font-size="6.24" dy="-4.00">-/-</tspan></text>
<text x="281.60" y="228.50" font-size="8.0" text-anchor="start" fill="#1e1e1e" transform="rotate(-45 281.60 228.50)"><tspan font-style="italic">WT</tspan><tspan> into </tspan><tspan font-style="italic">Tpo</tspan><tspan font-size="6.24" dy="-4.00">-/-</tspan></text>
<text x="301.60" y="228.50" font-size="8.0" text-anchor="start" fill="#1e1e1e" transform="rotate(-45 301.60 228.50)"><tspan>VF</tspan><tspan font-size="6.24" dy="-4.00">+</tspan><tspan dy="4.00">&#160; into </tspan><tspan font-style="italic">Tpo</tspan><tspan font-size="6.24" dy="-4.00">-/-</tspan></text>
<line x1="397.90" y1="169.40" x2="397.90" y2="242.70" stroke="#000" stroke-width="1.7" stroke-linecap="butt"/>
<line x1="397.20" y1="242.00" x2="518.40" y2="242.00" stroke="#000" stroke-width="1.7" stroke-linecap="butt"/>
<line x1="393.90" y1="242.00" x2="397.90" y2="242.00" stroke="#000" stroke-width="1.7" stroke-linecap="butt"/>
<text x="393.20" y="244.60" font-size="7.2" text-anchor="end" font-weight="normal" fill="#1e1e1e">0.0</text>
<line x1="393.90" y1="227.64" x2="397.90" y2="227.64" stroke="#000" stroke-width="1.7" stroke-linecap="butt"/>
<text x="393.20" y="230.24" font-size="7.2" text-anchor="end" font-weight="normal" fill="#1e1e1e">0.2</text>
<line x1="393.90" y1="213.28" x2="397.90" y2="213.28" stroke="#000" stroke-width="1.7" stroke-linecap="butt"/>
<text x="393.20" y="215.88" font-size="7.2" text-anchor="end" font-weight="normal" fill="#1e1e1e">0.4</text>
<line x1="393.90" y1="198.92" x2="397.90" y2="198.92" stroke="#000" stroke-width="1.7" stroke-linecap="butt"/>
<text x="393.20" y="201.52" font-size="7.2" text-anchor="end" font-weight="normal" fill="#1e1e1e">0.6</text>
<line x1="393.90" y1="184.56" x2="397.90" y2="184.56" stroke="#000" stroke-width="1.7" stroke-linecap="butt"/>
<text x="393.20" y="187.16" font-size="7.2" text-anchor="end" font-weight="normal" fill="#1e1e1e">0.8</text>
<line x1="393.90" y1="170.20" x2="397.90" y2="170.20" stroke="#000" stroke-width="1.7" stroke-linecap="butt"/>
<text x="393.20" y="172.80" font-size="7.2" text-anchor="end" font-weight="normal" fill="#1e1e1e">1.0</text>
<text x="369.20" y="205.60" font-size="7.8" text-anchor="middle" font-weight="normal" fill="#1e1e1e" transform="rotate(-90 369.20 205.60)">Spleen Weight</text>
<text x="377.20" y="207.00" font-size="7.8" text-anchor="middle" font-weight="normal" fill="#1e1e1e" transform="rotate(-90 377.20 207.00)">(% body weight)</text>
<line x1="411.20" y1="219.02" x2="411.20" y2="220.46" stroke="#111" stroke-width="1.2" stroke-linecap="butt"/>
<line x1="408.60" y1="219.02" x2="413.80" y2="219.02" stroke="#111" stroke-width="1.2" stroke-linecap="butt"/>
<line x1="408.60" y1="220.46" x2="413.80" y2="220.46" stroke="#111" stroke-width="1.2" stroke-linecap="butt"/>
<rect x="403.60" y="220.46" width="15.2" height="21.54" fill="#1e8fd8" stroke="#000" stroke-width="1.0"/>
<line x1="411.20" y1="242.00" x2="411.20" y2="245.20" stroke="#000" stroke-width="1.1" stroke-linecap="butt"/>
<line x1="429.20" y1="186.71" x2="429.20" y2="193.18" stroke="#111" stroke-width="1.2" stroke-linecap="butt"/>
<line x1="426.60" y1="186.71" x2="431.80" y2="186.71" stroke="#111" stroke-width="1.2" stroke-linecap="butt"/>
<line x1="426.60" y1="193.18" x2="431.80" y2="193.18" stroke="#111" stroke-width="1.2" stroke-linecap="butt"/>
<rect x="421.60" y="193.18" width="15.2" height="48.82" fill="#ca1128" stroke="#000" stroke-width="1.0"/>
<line x1="429.20" y1="242.00" x2="429.20" y2="245.20" stroke="#000" stroke-width="1.1" stroke-linecap="butt"/>
<line x1="447.30" y1="202.51" x2="447.30" y2="209.33" stroke="#111" stroke-width="1.2" stroke-linecap="butt"/>
<line x1="444.70" y1="202.51" x2="449.90" y2="202.51" stroke="#111" stroke-width="1.2" stroke-linecap="butt"/>
<line x1="444.70" y1="209.33" x2="449.90" y2="209.33" stroke="#111" stroke-width="1.2" stroke-linecap="butt"/>
<rect x="439.70" y="209.33" width="15.2" height="32.67" fill="#8e4392" stroke="#000" stroke-width="1.0"/>
<line x1="447.30" y1="242.00" x2="447.30" y2="245.20" stroke="#000" stroke-width="1.1" stroke-linecap="butt"/>
<line x1="465.20" y1="210.41" x2="465.20" y2="213.28" stroke="#111" stroke-width="1.2" stroke-linecap="butt"/>
<line x1="462.60" y1="210.41" x2="467.80" y2="210.41" stroke="#111" stroke-width="1.2" stroke-linecap="butt"/>
<line x1="462.60" y1="213.28" x2="467.80" y2="213.28" stroke="#111" stroke-width="1.2" stroke-linecap="butt"/>
<rect x="457.60" y="213.28" width="15.2" height="28.72" fill="#f6d11a" stroke="#000" stroke-width="1.0"/>
<line x1="465.20" y1="242.00" x2="465.20" y2="245.20" stroke="#000" stroke-width="1.1" stroke-linecap="butt"/>
<line x1="483.20" y1="199.64" x2="483.20" y2="203.23" stroke="#111" stroke-width="1.2" stroke-linecap="butt"/>
<line x1="480.60" y1="199.64" x2="485.80" y2="199.64" stroke="#111" stroke-width="1.2" stroke-linecap="butt"/>
<line x1="480.60" y1="203.23" x2="485.80" y2="203.23" stroke="#111" stroke-width="1.2" stroke-linecap="butt"/>
<rect x="475.60" y="203.23" width="15.2" height="38.77" fill="#e28420" stroke="#000" stroke-width="1.0"/>
<line x1="483.20" y1="242.00" x2="483.20" y2="245.20" stroke="#000" stroke-width="1.1" stroke-linecap="butt"/>
<line x1="501.10" y1="191.74" x2="501.10" y2="201.07" stroke="#111" stroke-width="1.2" stroke-linecap="butt"/>
<line x1="498.50" y1="191.74" x2="503.70" y2="191.74" stroke="#111" stroke-width="1.2" stroke-linecap="butt"/>
<line x1="498.50" y1="201.07" x2="503.70" y2="201.07" stroke="#111" stroke-width="1.2" stroke-linecap="butt"/>
<rect x="493.50" y="201.07" width="15.2" height="40.93" fill="#050505" stroke="#000" stroke-width="1.0"/>
<line x1="501.10" y1="242.00" x2="501.10" y2="245.20" stroke="#000" stroke-width="1.1" stroke-linecap="butt"/>
<circle cx="428.60" cy="181.40" r="0.95" fill="#1a1a1a"/>
<circle cx="431.80" cy="181.40" r="0.95" fill="#1a1a1a"/>
<text x="416.00" y="251.10" font-size="8.1" text-anchor="end" fill="#1e1e1e" transform="rotate(-45 416.00 251.10)"><tspan font-style="italic">WT</tspan><tspan> into </tspan><tspan font-style="italic">WT</tspan></text>
<text x="434.00" y="251.10" font-size="8.1" text-anchor="end" fill="#1e1e1e" transform="rotate(-45 434.00 251.10)"><tspan>VF</tspan><tspan font-size="6.32" dy="-4.05">+</tspan><tspan dy="4.05">&#160; into </tspan><tspan font-style="italic">WT</tspan></text>
<text x="452.10" y="251.10" font-size="8.1" text-anchor="end" fill="#1e1e1e" transform="rotate(-45 452.10 251.10)"><tspan font-style="italic">Mpl</tspan><tspan font-size="6.32" dy="-4.05">-/-</tspan><tspan dy="4.05"> into </tspan><tspan font-style="italic">Mpl</tspan><tspan font-size="6.32" dy="-4.05">-/-</tspan></text>
<text x="470.00" y="251.10" font-size="8.1" text-anchor="end" fill="#1e1e1e" transform="rotate(-45 470.00 251.10)"><tspan>VF</tspan><tspan font-size="6.32" dy="-4.05">+</tspan><tspan dy="4.05">&#160;</tspan><tspan font-style="italic">Mpl</tspan><tspan font-size="6.32" dy="-4.05">-/-</tspan><tspan dy="4.05"> into </tspan><tspan font-style="italic">Mpl</tspan><tspan font-size="6.32" dy="-4.05">-/-</tspan></text>
<text x="488.00" y="251.10" font-size="8.1" text-anchor="end" fill="#1e1e1e" transform="rotate(-45 488.00 251.10)"><tspan font-style="italic">WT</tspan><tspan> into </tspan><tspan font-style="italic">Tpo</tspan><tspan font-size="6.32" dy="-4.05">-/-</tspan></text>
<text x="505.90" y="251.10" font-size="8.1" text-anchor="end" fill="#1e1e1e" transform="rotate(-45 505.90 251.10)"><tspan>VF</tspan><tspan font-size="6.32" dy="-4.05">+</tspan><tspan dy="4.05">&#160; into </tspan><tspan font-style="italic">Tpo</tspan><tspan font-size="6.32" dy="-4.05">-/-</tspan></text>
</svg>
</body></html>
